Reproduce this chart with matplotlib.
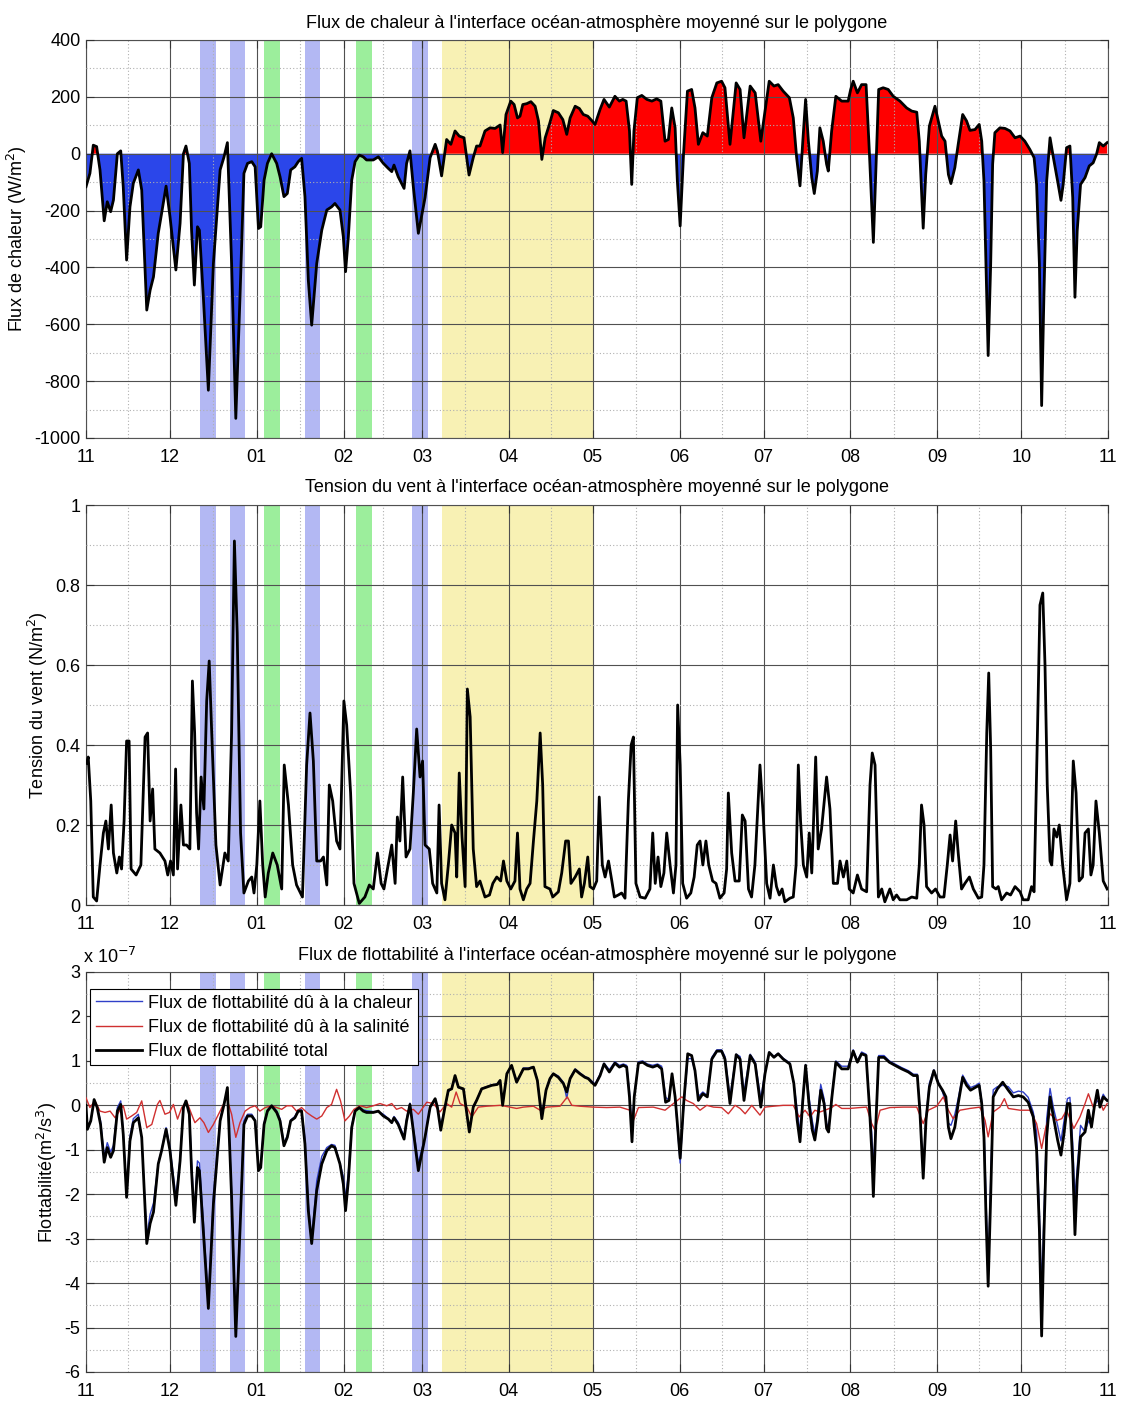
import matplotlib
matplotlib.use('Agg')
import matplotlib.pyplot as plt
from matplotlib.ticker import FixedLocator, NullFormatter

plt.rcParams['font.family'] = ['Liberation Sans', 'DejaVu Sans']
plt.rcParams['axes.unicode_minus'] = False

# ---------------- axis / annotations ----------------
month_days = [0, 30, 61, 92, 120, 151, 181, 212, 242, 273, 304, 334, 365]
month_labels = ['11', '12', '01', '02', '03', '04', '05', '06', '07', '08', '09', '10', '11']

blue_bands = [(40.7, 46.4), (51.4, 56.8), (78.2, 83.6), (116.5, 122.0)]
green_bands = [(63.6, 69.3), (96.4, 102.0)]
yellow_bands = [(127.1, 181.0)]

# ---------------- heat flux (W/m2) ----------------
heat_days = [0, 1.4, 2.6, 3.8, 5, 6.5, 7.6, 8.8, 9.8, 11.2, 12.4, 13.3, 14.5, 15.7, 16.9, 18.7, 19.9,
             21.7, 22.9, 24.1, 25.8, 27, 28.6, 30, 32.1, 33.6, 34.8, 35.7, 36.9, 37.7, 38.7, 39.8, 40.5,
             41.9, 43.7, 45.5, 47.9, 49.3, 50.5, 52, 53.5, 55, 56.4, 57.7, 59.2, 60.4, 61.6, 62.4, 63.6,
             64.8, 66.3, 68.1, 69.3, 70.7, 71.9, 73.1, 74.6, 75.8, 77, 78.2, 79.4, 80.6, 82.4, 84.2, 86,
             87.7, 88.9, 90.7, 91.9, 92.7, 93.7, 94.9, 96.1, 97.6, 99, 100.2, 102.6, 104.4, 106.2, 108,
             109.2, 110, 111.5, 113.6, 114.5, 115.7, 116.9, 118.7,
             121.1, 122.9, 124.7, 125.5, 127, 128.8, 130.3, 131.8, 133.3, 135, 136.8, 138.3, 139.5, 140.7,
             142.5, 144.3, 146.1, 147.9, 148.8, 150, 151.7, 152.9, 154.1, 155, 156, 157.4, 158.9, 160.4,
             161.6, 162.8, 164, 165.5, 166.9, 168.7, 170.3, 171.7, 172.9, 174.7, 176.2, 177.6, 179.2, 180.6,
             181.8, 183.6, 185, 186.9, 188.9, 190.5, 191.7, 192.9, 194.1, 194.9, 195.7, 196.9, 198.5, 200.3,
             202.1, 203.8, 205.3, 206.8, 208, 209.2, 210.4, 211.2, 212.2, 213.4, 214.8, 216.3, 217.5, 218.7,
             220.3, 221.9, 223.5, 225.3, 227, 228.2, 230, 232.2, 233.6, 235, 237.2, 239, 241,
             244, 245.7, 247.2, 249, 251.2, 252.6, 253.8, 255, 256, 257, 258, 259.2, 260.1, 261.2, 262.1,
             263.3, 264.5, 265.1, 266.3, 267.8, 269.9, 272.2, 273.1, 274, 275.5, 277, 278.6, 279.8, 280.6,
             281.2, 282.1, 283.1, 284.7, 286.5, 288.3, 290.7, 293.1, 294.9, 296.7, 297.6, 298.2, 299, 299.9,
             301.2, 303.2, 304.4, 305.6, 306.8, 308, 308.9, 310.3, 311.5, 313.1, 314.5, 315.7, 317.5, 319,
             319.9, 320.7, 321.4, 322.2, 323.1, 323.8, 324.6, 326.4, 328.2, 330, 331.8, 333.6, 335.3, 337.1,
             338.6, 339.5, 340.5, 341.3, 342.1, 343.1, 344.3, 345.5, 347, 348.2, 349, 350.2, 351.4, 352.4,
             353.2, 354, 355.2, 356.8, 358.3, 359.7, 360.9, 361.9, 363.3, 364.7]
heat_flux = [-116, -69, 30, 25, -57, -236, -169, -204, -163, 0, 10, -116, -374, -187, -104, -57, -128,
             -550, -480, -433, -280, -210, -114, -222, -409, -245, 0, 27, -34, -269, -462, -257, -269,
             -503, -832, -386, -57, -11, 39, -386, -931, -503, -69, -34, -28, -46, -263, -257, -93,
             -34, 0, -34, -81, -151, -140, -57, -46, -28, -16, -151, -445, -603, -386, -269, -198,
             -187, -175, -198, -292, -415, -292, -93, -28, -5, -11, -22, -22, -11, -34, -52,
             -63, -40, -81, -122, -34, 10, -116, -280,
             -154, -14, 33, 9, -78, 50, 33, 80, 62, 56, -75, -14, 27, 27,
             80, 91, 89, 101, 4, 138, 185, 173, 126, 132, 173, 176, 183, 167,
             115, -20, 56, 103, 152, 144, 120, 68, 126, 167, 159, 138, 132, 117,
             103, 156, 191, 164, 202, 185, 191, 185, 80, -108, 80, 197, 205, 191,
             185, 193, 185, 44, 50, 161, 91, -96, -254, -2, 220, 226, 161, 33,
             74, 62, 197, 249, 255, 232, 33, 249, 226, 56, 238, 214, 44,
             255, 238, 243, 220, 197, 126, -14, -113, 44, 191, 44, -84, -140, -61, 91,
             44, -37, -61, 80, 202, 185, 185, 226, 255, 214, 243, 243, 0, -178,
             -312, -61, 226, 232, 226, 202, 185, 161, 150, 146, 44, -84, -262, -73,
             97, 167, 115, 62, 44, -73, -105, -49, 33, 138, 115, 82, 85, 103,
             44, -96, -388, -710, -388, -37, 74, 91, 89, 80, 56, 62, 44, 15,
             -14, -108, -388, -886, -505, -96, 56, -14, -96, -164, -108, 21, 27, -154,
             -505, -271, -108, -84, -43, -32, -2, 39, 27, 39]

# ---------------- wind stress (N/m2) ----------------
wind_days = [0.2, 0.8, 1.7, 2.6, 3.8, 5, 6.2, 7.1, 8, 9, 9.8, 11, 11.9, 12.7, 13.6, 14.5, 15.4, 16.1,
             17.9, 19.6, 21.1, 22, 22.9, 23.8, 24.6, 26.4, 28.2, 29.2, 30.2, 31.2, 32, 32.7, 33.9, 34.8,
             35.9, 37.1, 38, 38.8, 39.5, 40.2, 41.1, 42.1, 43.1, 44, 44.9, 46.4, 47.9, 49.6, 50.8, 52,
             53, 54, 55.2, 56.4, 58, 59.2, 60, 61, 62.1, 63.1, 64, 65.1, 66.7, 68.3, 69.9, 70.8, 72.3,
             73.8, 75.2, 77.3, 78.8, 80, 81.2, 82.4, 83.8, 84.8, 86, 86.9, 88.1, 89.5, 90.7, 92.1, 93.1,
             94.5, 95.7, 97.6, 99.6, 101.2, 102.6, 104.1, 105.4, 106.4, 107.4, 109.2, 110.4, 111.2, 112.1,
             113.1, 114.3, 115.7, 116.9, 118.1, 119.3,
             120.2, 121.1, 122.6, 123.8, 125.3, 126.1, 127, 128.2, 129.4, 130.6, 131.8, 132.4, 133.3, 134.3,
             135.4, 136.2, 137.2, 138.3, 139.5, 140.7, 142.5, 144.1, 145.3, 146.7, 148.1, 149.1, 150.3,
             151.7, 153.2, 154.1, 155, 156.2, 157.4, 158.6, 159.8, 161, 162.2, 163.1, 163.9, 165.7, 166.7,
             168.7, 169.9, 171.3, 172.3, 173.2, 174.7, 176.2, 177, 178, 179.2, 180, 181.2, 182.4, 183.3,
             184.4, 185.4, 186.6, 187.8, 188.7, 190.1, 191.3, 192.5, 193.7, 194.7, 195.5, 196.4, 197.9,
             199.7, 201.4, 202.4, 203.3, 204.3, 205.3, 206.4, 207.4, 208.6, 209.8, 210.7, 211.3, 212.2,
             213.1, 214.5, 216, 217.2, 218.3, 219.3, 220.3, 221.4, 222.4, 223.8, 225, 226.4, 227.9, 228.8,
             229.4, 230.6, 231.8, 233.3, 234.4, 235.4, 236.6, 237.7, 238.9, 240.7, 241.9, 243.1, 244.3,
             245.5, 246.6, 247.6, 248.6, 249.6, 251.4, 252.6, 253.6, 254.4, 255.2, 256.2, 257.4, 258.3,
             259.2, 259.7, 260.6, 261.5, 262.7, 264.5, 265.7, 266.9, 268.4, 269.3, 270.5, 271.7, 272.6,
             274, 275.5, 277, 278.8, 280, 280.8, 281.8, 283, 284.2, 285.3, 287.1, 288.3, 289.5, 290.7,
             293.1, 294.9, 296.7, 297.6, 298.4, 299.3, 300.2, 302, 303.4, 305, 306.4, 307.6, 308.6, 309.5,
             310.6, 311.5, 312.7, 313.9, 315.5, 316.9, 318.7, 319.9, 320.7, 321.7, 322.4, 323.1, 323.8,
             325, 325.8, 327, 328.8, 330.2, 331.8, 333.6, 334.7, 336.5, 337.7, 338.6, 339.8, 340.7, 341.7,
             342.5, 343.3, 344.3, 344.9, 345.7, 346.7, 347.6, 348.8, 350.2, 351.4, 352.6, 353.6, 354.7,
             355.9, 356.8, 358, 358.9, 359.7, 360.7, 361.9, 363.3, 364.7]
wind_stress = [0.354, 0.37, 0.26, 0.02, 0.01, 0.1, 0.18, 0.21, 0.14, 0.25, 0.13, 0.08, 0.12, 0.09, 0.21, 0.41, 0.41, 0.09,
               0.075, 0.1, 0.42, 0.43, 0.21, 0.29, 0.14, 0.13, 0.11, 0.075, 0.11, 0.075, 0.34, 0.09, 0.25, 0.15,
               0.15, 0.14, 0.56, 0.43, 0.23, 0.14, 0.32, 0.24, 0.51, 0.61, 0.43, 0.15, 0.05, 0.13, 0.11, 0.43,
               0.91, 0.68, 0.18, 0.03, 0.06, 0.07, 0.03, 0.1, 0.26, 0.1, 0.02, 0.08, 0.13, 0.1, 0.04, 0.35, 0.25,
               0.1, 0.05, 0.02, 0.35, 0.48, 0.36, 0.11, 0.11, 0.12, 0.05, 0.3, 0.26, 0.16, 0.14, 0.51, 0.45,
               0.28, 0.054, 0.004, 0.02, 0.05, 0.04, 0.13, 0.054, 0.04, 0.08, 0.15, 0.054, 0.22, 0.16,
               0.32, 0.12, 0.14, 0.28, 0.44, 0.32,
               0.36, 0.15, 0.14, 0.054, 0.03, 0.25, 0.054, 0.013, 0.1, 0.2, 0.18, 0.07, 0.33, 0.17,
               0.046, 0.54, 0.47, 0.14, 0.046, 0.06, 0.02, 0.025, 0.054, 0.07, 0.06, 0.11, 0.06,
               0.04, 0.06, 0.18, 0.04, 0.013, 0.04, 0.054, 0.16, 0.26, 0.43, 0.3, 0.046, 0.04, 0.02,
               0.033, 0.08, 0.16, 0.16, 0.054, 0.07, 0.09, 0.02, 0.054, 0.12, 0.046, 0.04, 0.06, 0.27,
               0.1, 0.07, 0.11, 0.06, 0.02, 0.025, 0.03, 0.017, 0.26, 0.4, 0.42, 0.054, 0.02,
               0.017, 0.04, 0.18, 0.054, 0.12, 0.046, 0.08, 0.18, 0.1, 0.03, 0.1, 0.5, 0.35,
               0.054, 0.017, 0.03, 0.07, 0.15, 0.16, 0.1, 0.16, 0.1, 0.06, 0.054, 0.017, 0.03, 0.09,
               0.28, 0.13, 0.06, 0.06, 0.225, 0.21, 0.04, 0.02, 0.1, 0.35, 0.22, 0.054, 0.017,
               0.1, 0.046, 0.025, 0.04, 0.008, 0.017, 0.02, 0.1, 0.35, 0.21, 0.1, 0.07, 0.18,
               0.08, 0.18, 0.37, 0.14, 0.19, 0.32, 0.24, 0.054, 0.054, 0.11, 0.07, 0.11, 0.04,
               0.03, 0.075, 0.04, 0.033, 0.3, 0.38, 0.35, 0.02, 0.04, 0.008, 0.04, 0.013, 0.025, 0.013,
               0.013, 0.02, 0.017, 0.1, 0.25, 0.2, 0.046, 0.03, 0.04, 0.02, 0.02, 0.1, 0.175, 0.11,
               0.21, 0.13, 0.04, 0.054, 0.07, 0.04, 0.017, 0.02, 0.1, 0.43, 0.58, 0.39, 0.046,
               0.04, 0.046, 0.013, 0.03, 0.025, 0.046, 0.033, 0.013, 0.013, 0.046, 0.033, 0.43, 0.75, 0.78,
               0.6, 0.3, 0.11, 0.1, 0.19, 0.17, 0.2, 0.1, 0.013, 0.054, 0.36, 0.28, 0.06,
               0.07, 0.18, 0.19, 0.075, 0.1, 0.26, 0.18, 0.06, 0.04]

# ---------------- buoyancy flux (x 1e-7 m2/s3) ----------------
buoy_days = [0, 0.5, 1.7, 2.9, 4, 5.2, 6.5, 7.6, 8.8, 9.8, 11.2, 12.4, 13.3, 14.5, 15.7, 16.9, 18.7, 19.9,
             21.7, 22.9, 24.1, 25.8, 27, 28.6, 30, 32.1, 33.6, 34.8, 35.7, 36.9, 37.7, 38.7, 39.8, 40.5,
             41.9, 43.7, 45.5, 47.9, 49.3, 50.5, 52, 53.5, 55, 56.4, 57.7, 59.2, 60.4, 61.6, 62.4, 63.6,
             64.8, 66.3, 68.1, 69.3, 70.7, 71.9, 73.1, 74.6, 75.8, 77, 78.2, 79.4, 80.6, 82.4, 84.2, 86,
             87.7, 88.9, 90.7, 91.9, 92.7, 93.7, 94.9, 96.1, 97.6, 99, 100.2, 102.6, 104.4, 106.2, 108,
             109.2, 110, 111.5, 113.6, 114.5, 115.7, 116.9, 118.7,
             121.1, 122.9, 124.7, 125.5, 126.7, 128.2, 129.4, 130.6, 131.8, 133, 134.8, 136.9, 138.3, 139.5,
             141.3, 143.1, 144.9, 146.9, 147.9, 148.8, 150.3, 152, 153.8, 155, 156.2, 158, 159.8, 161.2,
             162.8, 164.3, 165.7, 166.9, 168.7, 170.5, 171.7, 172.9, 174.7, 176.4, 178.2, 179.4, 180.6,
             181.8, 183.6, 185, 186.9, 188.9, 190.5, 191.9, 193.1, 194.1, 195, 195.8, 197.3, 198.8, 200.5,
             202.4, 204.1, 205.6, 207, 208.2, 209.3, 210.4, 211.2, 212.2, 213.4, 214.9, 216.3, 217.5,
             218.7, 220.3, 221.9, 223.5, 225.3, 227, 228.2, 230, 232.2, 233.6, 235, 237.2, 239, 241,
             242.5, 244, 245.7, 247.2, 249, 251.4, 252.8, 254, 255, 256, 257, 258.2, 259.4, 260.3, 261.3,
             262.4, 263.6, 264.5, 265.2, 266.4, 267.8, 269.9, 272.2, 274, 275.5, 277, 278.6, 279.8, 280.6,
             281.2, 282.1, 283.1, 285, 286.9, 288.9, 291.3, 293.7, 295.5, 296.9, 297.8, 299, 300, 301.2,
             302.8, 304.4, 305.9, 307.1, 308, 308.9, 310.3, 311.5, 313.1, 314.5, 315.9, 317.8, 319, 319.9,
             320.7, 321.4, 322.2, 323.1, 324, 325.5, 327.4, 329.4, 331.2, 333, 334.7, 336.5, 338.3, 339.5,
             340.5, 341.3, 342.1, 343.1, 344.3, 345.5, 347, 348.2, 349.3, 350.5, 351.4, 352.4, 353.2, 354,
             355.2, 356.8, 358, 359.1, 360.1, 361.2, 362.1, 363.3, 364.7]
buoy_total = [0.0, -0.54, -0.35, 0.13, -0.05, -0.43, -1.28, -0.95, -1.17, -1.02, -0.13, 0.02, -0.65, -2.07, -0.8, -0.39, -0.28, -0.72,
              -3.11, -2.66, -2.4, -1.32, -1.02, -0.54, -1.02, -2.25, -1.25, -0.05, 0.1, -0.2, -1.47, -2.63, -1.4, -1.47,
              -2.81, -4.57, -2.22, -0.35, 0.02, 0.4, -2.07, -5.2, -2.81, -0.43, -0.24, -0.24, -0.35, -1.47, -1.4, -0.43,
              -0.13, -0.01, -0.16, -0.35, -0.91, -0.72, -0.35, -0.28, -0.13, -0.13, -0.87, -2.37, -3.11, -1.92, -1.32, -1.02,
              -0.91, -0.95, -1.32, -1.77, -2.37, -1.69, -0.5, -0.13, -0.05, -0.13, -0.16, -0.16, -0.13, -0.24, -0.31,
              -0.39, -0.28, -0.43, -0.76, -0.35, 0.02, -0.57, -1.47,
              -0.71, -0.04, 0.15, -0.04, -0.56, -0.04, 0.34, 0.37, 0.67, 0.41, 0.37, -0.6, -0.04, 0.11,
              0.37, 0.41, 0.45, 0.47, 0.56, 0.0, 0.71, 0.9, 0.52, 0.67, 0.82, 0.82, 0.86, 0.56,
              -0.3, 0.34, 0.6, 0.71, 0.63, 0.49, 0.3, 0.6, 0.8, 0.71, 0.63, 0.6, 0.52,
              0.45, 0.67, 0.93, 0.75, 0.95, 0.86, 0.9, 0.86, 0.19, -0.82, 0.19, 0.95, 0.97, 0.9,
              0.86, 0.9, 0.82, 0.07, 0.11, 0.71, 0.19, -0.41, -1.19, 0.0, 1.16, 1.12, 0.78,
              0.11, 0.26, 0.19, 1.04, 1.22, 1.22, 1.04, 0.04, 1.14, 1.04, 0.11, 1.12, 0.93, -0.04,
              0.71, 1.19, 1.08, 1.16, 1.04, 0.93, 0.49, -0.34, -0.82, 0.11, 0.9, 0.04, -0.56, -0.78, -0.34,
              0.34, 0.04, -0.52, -0.6, 0.19, 0.97, 0.82, 0.82, 1.22, 0.97, 1.16, 1.12, -0.04, -1.0,
              -2.05, -0.41, 1.08, 1.08, 0.97, 0.9, 0.82, 0.75, 0.67, 0.67, -0.11, -1.64, -0.34, 0.41,
              0.78, 0.49, 0.34, 0.19, -0.49, -0.75, -0.49, 0.04, 0.63, 0.45, 0.34, 0.41, 0.45, 0.04,
              -0.71, -2.43, -4.07, -2.05, 0.19, 0.37, 0.52, 0.34, 0.19, 0.22, 0.19, 0.07, -0.26, -1.0,
              -2.8, -5.19, -2.95, -0.71, 0.19, -0.26, -0.78, -1.12, -0.63, 0.04, 0.04, -1.31, -2.91, -1.68,
              -0.71, -0.6, -0.11, -0.49, -0.04, 0.34, -0.04, 0.19, 0.11]
buoy_heat = [-0.1, -0.5, -0.33, 0.08, -0.03, -0.35, -1.15, -0.84, -1.05, -0.9, -0.05, 0.1, -0.6, -1.9, -0.7, -0.3, -0.2, -0.75,
             -2.95, -2.45, -2.2, -1.3, -1.0, -0.5, -0.95, -2.05, -1.2, -0.02, 0.05, -0.15, -1.3, -2.4, -1.25, -1.3,
             -2.6, -4.4, -2.0, -0.3, 0.05, 0.3, -1.95, -5.0, -2.6, -0.35, -0.2, -0.2, -0.33, -1.4, -1.3, -0.4,
             -0.1, 0.0, -0.12, -0.3, -0.85, -0.68, -0.33, -0.25, -0.1, -0.1, -0.75, -2.2, -3.0, -1.7, -1.15, -0.95,
             -0.88, -0.9, -1.3, -1.6, -2.1, -1.5, -0.45, -0.1, -0.04, -0.1, -0.12, -0.14, -0.14, -0.2, -0.3,
             -0.4, -0.25, -0.38, -0.7, -0.3, 0.05, -0.5, -1.3,
             -0.7, -0.05, 0.12, -0.05, -0.45, -0.05, 0.3, 0.38, 0.6, 0.4, 0.35, -0.55, -0.02, 0.12,
             0.38, 0.42, 0.46, 0.48, 0.57, 0.02, 0.72, 0.9, 0.55, 0.68, 0.84, 0.84, 0.87, 0.58,
             -0.2, 0.36, 0.62, 0.72, 0.66, 0.52, 0.15, 0.62, 0.82, 0.73, 0.65, 0.62, 0.55,
             0.48, 0.7, 0.95, 0.8, 0.98, 0.9, 0.93, 0.9, 0.3, -0.5, 0.22, 0.98, 1.0, 0.93,
             0.9, 0.93, 0.88, 0.18, 0.12, 0.7, 0.17, -0.5, -1.3, -0.1, 1.05, 1.05, 0.76,
             0.2, 0.3, 0.22, 1.08, 1.25, 1.25, 1.1, 0.2, 1.15, 1.1, 0.3, 1.15, 0.98, 0.15,
             0.76, 1.2, 1.1, 1.17, 1.06, 0.95, 0.5, -0.1, -0.6, 0.2, 0.92, 0.2, -0.35, -0.65, -0.2,
             0.47, 0.15, -0.4, -0.5, 0.25, 1.0, 0.88, 0.88, 1.25, 1.0, 1.2, 1.15, 0.0, -0.6,
             -1.4, -0.3, 1.12, 1.12, 1.0, 0.93, 0.85, 0.78, 0.7, 0.7, -0.05, -1.5, -0.25, 0.5,
             0.8, 0.52, 0.3, 0.05, -0.4, -0.45, -0.2, 0.15, 0.68, 0.52, 0.4, 0.45, 0.5, 0.1,
             -0.4, -2.0, -3.7, -1.7, 0.35, 0.42, 0.45, 0.42, 0.28, 0.32, 0.3, 0.18, -0.15, -0.6,
             -2.4, -4.15, -2.5, -0.3, 0.38, -0.05, -0.45, -0.8, -0.35, 0.15, 0.18, -0.85, -2.1, -1.4,
             -0.45, -0.6, -0.35, -0.45, 0.0, 0.1, 0.05, 0.25, 0.1]

sal_days = [0, 1.4, 3.2, 5, 6.8, 8.6, 10.4, 11.9, 13.3, 14.5, 16.3, 18.1, 19.9, 21.7, 23.5, 25.5, 26.4, 28.2,
            29.8, 31.2, 32.7, 34.2, 35.9, 37.7, 38.9, 40.7, 42.1, 43.7, 45.5, 47.9, 50.2, 52, 53.5, 55, 56.8,
            58.6, 60.4, 62.1, 64, 66.3, 68.1, 69.9, 71.7, 73.5, 75.2, 77, 78.8, 80.6, 82.4, 84.2, 86, 87.7,
            89.5, 90.9, 92.5, 94.1, 95.7, 97.9, 100.2, 102.6, 105, 107.4, 109.2, 110.9, 112.7, 114.5, 116.9,
            118.7, 121.7, 124.1, 126.4, 128.8, 130.6, 132.2, 133.6, 136, 137.8, 140.1, 143.1, 147.9, 151.4,
            153.8, 156.2, 159.8, 162.2, 164.5, 169.3, 171.9, 173.5, 176.4, 181.2, 186, 190.7, 194.3, 195.5,
            197.3, 202.6, 206.8, 209.8, 212.8, 214.5, 216.9, 219.3, 221.7, 224.1, 227, 229.4, 231.8, 233.6,
            235.4, 237.8, 240.7, 242.5, 245.5, 249, 252.6, 254.7, 256.8, 258.6, 260.3, 262.1, 263.9, 266.3,
            267.8, 269.9, 272.8, 276.4, 278.8, 280.6, 281.8, 283.6, 287.1, 291.9, 296.7, 299, 300.8, 303.8,
            306.2, 308, 309.7, 312.1, 315.7, 319.3, 321.1, 322.2, 324, 326.4, 328, 329.4, 333.6, 337.1, 339.5,
            341.3, 342.8, 344.3, 346.7, 348.5, 350.2, 352.8, 355, 356.8, 358, 359.7, 361.5, 363.3, 364.7]
buoy_sal = [0.17, -0.05, 0.1, -0.13, -0.16, -0.13, -0.28, -0.13, -0.01, -0.31, -0.24, -0.16, 0.1, -0.5, -0.43, 0.02, 0.11, -0.2,
            -0.16, 0.02, -0.31, -0.05, 0.1, -0.2, -0.39, -0.28, -0.39, -0.61, -0.43, -0.13, 0.17, -0.2, -0.72, -0.39, -0.13,
            -0.05, -0.01, -0.13, -0.05, -0.01, -0.05, -0.09, -0.01, -0.01, -0.13, -0.05, -0.16, -0.24, -0.31, -0.24, -0.05, 0.02,
            0.36, 0.1, -0.35, -0.24, -0.09, -0.01, -0.05, -0.01, 0.04, -0.01, 0.04, -0.09, -0.05, -0.13, -0.09,
            -0.2, 0.07, 0.04, -0.15, 0.04, -0.04, 0.3, 0.04, -0.04, -0.26, -0.04, -0.02, 0.0, -0.04,
            -0.07, -0.04, -0.02, -0.11, -0.04, -0.02, 0.19, 0.0, -0.02, -0.04, -0.05, -0.04, -0.11, -0.34,
            -0.05, -0.04, -0.11, 0.04, 0.19, 0.11, 0.04, -0.11, 0.0, -0.04, -0.05, -0.19, 0.0, -0.07,
            -0.19, 0.0, -0.22, -0.04, -0.02, 0.0, 0.0, -0.26, -0.11, -0.26, -0.11, -0.15, -0.11, -0.05,
            0.02, -0.07, -0.07, -0.05, -0.04, -0.41, -0.56, -0.11, -0.05, -0.04, -0.04, -0.41, -0.11, -0.02,
            0.19, -0.11, -0.3, -0.11, -0.07, -0.04, -0.34, -0.71, -0.15, -0.04, 0.15, -0.07, -0.11, -0.11, -0.41,
            -0.97, -0.49, -0.19, -0.34, -0.3, -0.11, -0.52, -0.26, 0.04, 0.26, -0.04, 0.22, -0.11, 0.04]

# ---------------- styling ----------------
W, H = 1128, 1401
fig = plt.figure(figsize=(W / 100, H / 100), dpi=100)

def ax_rect(left, top, right, bottom):
    return [left / W, 1 - bottom / H, (right - left) / W, (bottom - top) / H]

BAND_BLUE = '#b3b8f3'
BAND_GREEN = '#9cee9c'
BAND_YELLOW = '#f8f1b4'
FS_TICK = 13
FS_TITLE = 13
FS_LABEL = 13

def style(ax, ylim, yticks, yminor, ylabels, title, ylabel):
    for a, b in blue_bands:
        ax.axvspan(a, b, color=BAND_BLUE, lw=0, zorder=0.2)
    for a, b in green_bands:
        ax.axvspan(a, b, color=BAND_GREEN, lw=0, zorder=0.2)
    for a, b in yellow_bands:
        ax.axvspan(a, b, color=BAND_YELLOW, lw=0, zorder=0.2)
    ax.set_xlim(month_days[0], month_days[-1])
    ax.set_ylim(*ylim)
    ax.xaxis.set_major_locator(FixedLocator(month_days))
    ax.set_xticklabels(month_labels)
    mids = [(month_days[i] + month_days[i + 1]) / 2 for i in range(len(month_days) - 1)]
    ax.xaxis.set_minor_locator(FixedLocator(mids))
    ax.yaxis.set_major_locator(FixedLocator(yticks))
    ax.set_yticklabels(ylabels)
    ax.yaxis.set_minor_locator(FixedLocator(yminor))
    ax.xaxis.set_minor_formatter(NullFormatter())
    ax.yaxis.set_minor_formatter(NullFormatter())
    ax.tick_params(which='major', direction='in', length=6, width=0.8, top=True, right=True,
                   labelsize=FS_TICK, pad=4, color='#333333')
    ax.tick_params(axis='x', which='major', pad=8)
    ax.tick_params(which='minor', length=0)
    ax.grid(which='major', color='#505050', lw=0.8, ls='-', zorder=1.5)
    ax.grid(which='minor', color='#b0b0b0', lw=0.8, ls=(0, (1, 2)), zorder=1.5)
    ax.set_axisbelow(False)
    for s in ax.spines.values():
        s.set_color('#555555')
        s.set_linewidth(0.8)
    ax.set_title(title, fontsize=FS_TITLE, pad=9)
    ax.set_ylabel(ylabel, fontsize=FS_LABEL)

# ---- panel 1 : heat flux ----
ax1 = fig.add_axes(ax_rect(86, 40, 1108, 438))
ax1.fill_between(heat_days, heat_flux, 0, where=[v >= 0 for v in heat_flux], interpolate=True,
                 color='#ff0000', lw=0, zorder=1)
ax1.fill_between(heat_days, heat_flux, 0, where=[v <= 0 for v in heat_flux], interpolate=True,
                 color='#2b46ea', lw=0, zorder=1)
ax1.plot(heat_days, heat_flux, color='black', lw=2.0, zorder=3)
style(ax1, (-1000, 400), list(range(-1000, 401, 200)), list(range(-900, 400, 200)),
      [str(v) for v in range(-1000, 401, 200)],
      "Flux de chaleur à l'interface océan-atmosphère moyenné sur le polygone",
      'Flux de chaleur (W/m$^2$)')

# ---- panel 2 : wind stress ----
ax2 = fig.add_axes(ax_rect(86, 505, 1108, 905))
ax2.plot(wind_days, wind_stress, color='black', lw=2.0, zorder=3)
wt = [0, 0.2, 0.4, 0.6, 0.8, 1.0]
style(ax2, (0, 1), wt, [0.1, 0.3, 0.5, 0.7, 0.9],
      ['0', '0.2', '0.4', '0.6', '0.8', '1'],
      "Tension du vent à l'interface océan-atmosphère moyenné sur le polygone",
      'Tension du vent (N/m$^2$)')

# ---- panel 3 : buoyancy ----
ax3 = fig.add_axes(ax_rect(86, 972, 1108, 1372))
l1, = ax3.plot(buoy_days, buoy_heat, color='#3040c8', lw=1.0, zorder=3)
l2, = ax3.plot(sal_days, buoy_sal, color='#d03030', lw=1.0, zorder=3.1)
l3, = ax3.plot(buoy_days, buoy_total, color='black', lw=2.0, zorder=3.2)
bt = list(range(-6, 4))
style(ax3, (-6, 3), bt, [v + 0.5 for v in range(-6, 3)], [str(v) for v in bt],
      "Flux de flottabilité à l'interface océan-atmosphère moyenné sur le polygone",
      'Flottabilité(m$^2$/s$^3$)')
ax3.text(-0.003, 1.012, 'x 10$^{-7}$', transform=ax3.transAxes, ha='left', va='bottom', fontsize=FS_TICK)
leg = ax3.legend([l1, l2, l3], ['Flux de flottabilité dû à la chaleur',
                                'Flux de flottabilité dû à la salinité',
                                'Flux de flottabilité total'],
                 loc='upper left', bbox_to_anchor=(0.004, 0.957), fontsize=13, frameon=True,
                 fancybox=False, framealpha=1, edgecolor='black', borderpad=0.3, labelspacing=0.4,
                 handlelength=2.6, handletextpad=0.3, borderaxespad=0)
leg.get_frame().set_linewidth(0.8)
leg.set_zorder(10)

fig.savefig('out.png', dpi=100, facecolor='white')
